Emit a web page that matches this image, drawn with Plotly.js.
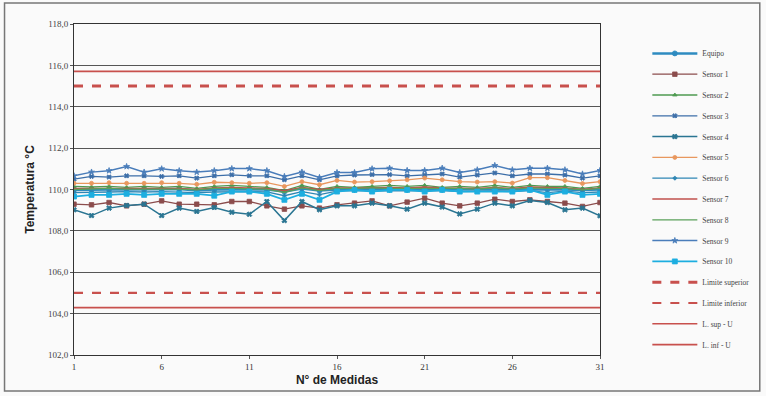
<!DOCTYPE html>
<html>
<head>
<meta charset="utf-8">
<script src="https://cdn.plot.ly/plotly-3.0.1.min.js"></script>
<style>html,body{margin:0;padding:0;background:#fafafa;}#chart{width:766px;height:396px;}</style>
</head>
<body>
<div id="chart"></div>
<script>
const medidas = Array.from({length: 31}, (_, i) => i + 1);
const xTickVals = [1, 6, 11, 16, 21, 26, 31];
const yTickVals = [102, 104, 106, 108, 110, 112, 114, 116, 118];

const equipo   = [109.98,110.0,110.0,110.0,110.0,110.0,110.02,109.95,110.0,110.0,110.0,110.0,109.9,110.05,109.95,110.0,110.0,110.02,110.0,110.0,110.0,110.02,110.0,110.0,110.0,110.0,110.02,110.0,110.0,109.98,110.0];
const sensor1  = [109.29,109.26,109.37,109.21,109.29,109.45,109.29,109.29,109.26,109.42,109.42,109.21,109.05,109.21,109.1,109.26,109.34,109.45,109.21,109.39,109.58,109.34,109.21,109.34,109.53,109.42,109.5,109.42,109.34,109.18,109.37];
const sensor2  = [110.15,110.12,110.15,110.1,110.15,110.1,110.15,110.05,110.15,110.2,110.15,110.1,109.95,110.2,110.0,110.15,110.1,110.15,110.2,110.15,110.2,110.1,110.15,110.1,110.2,110.1,110.2,110.15,110.15,110.05,110.15];
const sensor3  = [110.5,110.63,110.6,110.66,110.66,110.63,110.66,110.55,110.66,110.71,110.66,110.66,110.47,110.66,110.47,110.66,110.7,110.72,110.72,110.66,110.7,110.75,110.6,110.7,110.8,110.66,110.75,110.75,110.7,110.55,110.66];
const sensor4  = [109.02,108.74,109.1,109.23,109.29,108.74,109.1,108.94,109.13,108.9,108.8,109.42,108.5,109.42,109.02,109.21,109.21,109.34,109.21,109.05,109.34,109.15,108.82,109.05,109.34,109.21,109.47,109.37,109.02,109.1,108.73];
const sensor5  = [110.3,110.3,110.33,110.3,110.3,110.33,110.3,110.25,110.35,110.33,110.3,110.33,110.15,110.38,110.23,110.44,110.36,110.38,110.42,110.47,110.55,110.47,110.38,110.36,110.38,110.31,110.57,110.57,110.44,110.29,110.38];
const sensor6  = [109.85,109.88,109.88,109.9,109.88,109.9,109.88,109.85,109.88,109.9,109.9,109.88,109.7,109.9,109.75,109.92,109.95,109.92,109.95,109.95,109.92,109.95,109.9,109.92,109.92,109.9,109.95,109.85,109.92,109.85,109.88];
const sensor7  = [110.05,110.05,110.08,110.05,110.05,110.08,110.05,110.0,110.08,110.1,110.08,110.05,109.95,110.1,110.0,110.08,110.08,110.1,110.1,110.08,110.12,110.08,110.08,110.05,110.1,110.05,110.12,110.1,110.08,110.0,110.08];
const sensor8  = [110.0,110.02,110.05,110.02,110.02,110.05,110.02,109.98,110.05,110.05,110.05,110.02,109.85,110.08,109.95,110.05,110.05,110.08,110.05,110.05,110.08,110.05,110.05,110.02,110.08,110.02,110.08,110.05,110.05,109.98,110.05];
const sensor9  = [110.66,110.84,110.91,111.11,110.84,111.0,110.91,110.84,110.91,111.01,111.01,110.91,110.63,110.84,110.58,110.82,110.82,111.0,111.03,110.92,110.92,111.03,110.82,110.95,111.16,110.95,111.03,111.03,110.95,110.75,110.92];
const sensor10 = [109.66,109.74,109.74,109.79,109.74,109.79,109.79,109.79,109.7,109.9,109.9,109.79,109.5,109.79,109.5,109.9,109.98,109.9,109.98,109.98,109.9,109.98,109.9,109.9,109.9,109.9,109.98,109.74,109.9,109.74,109.79];
const limSup = 115.0, limInf = 105.0, limSupU = 115.71, limInfU = 104.29;

const names = ['Equipo','Sensor 1','Sensor 2','Sensor 3','Sensor 4','Sensor 5','Sensor 6','Sensor 7','Sensor 8','Sensor 9','Sensor 10','Limite superior','Limite inferior','L. sup - U','L. inf - U'];

const styles = [
  {c:'#2E8BC0', w:2.5, m:'circle', s:5},
  {c:'#8B4C4C', w:1.3, m:'square', s:4.5},
  {c:'#4E9A50', w:1.3, m:'triangle-up', s:4},
  {c:'#3C6EA8', w:1.3, m:'x', s:4},
  {c:'#2A7592', w:1.5, m:'x', s:4.5},
  {c:'#E8975E', w:1.3, m:'circle', s:4},
  {c:'#2E86B4', w:1.3, m:'cross', s:3},
  {c:'#C0504D', w:1.3, m:null, s:0},
  {c:'#5AA05A', w:1.3, m:null, s:0},
  {c:'#4A7DBA', w:1.5, m:'star', s:4.5},
  {c:'#1DAEE0', w:1.8, m:'square', s:5},
];
const series = [equipo,sensor1,sensor2,sensor3,sensor4,sensor5,sensor6,sensor7,sensor8,sensor9,sensor10];

const traces = [];
series.forEach((ys, k) => {
  const st = styles[k];
  const tr = {
    x: medidas, y: ys, name: names[k], type: 'scatter',
    mode: st.m ? 'lines+markers' : 'lines',
    line: {color: st.c, width: st.w},
    legendgroup: 'g' + k
  };
  if (st.m) tr.marker = {symbol: st.m, size: st.s, color: st.c, line: {color: st.c, width: 0.8}};
  traces.push(tr);
});
const limVals = [limSup, limInf, limSupU, limInfU];
const limStyles = [
  {dash:'dash', w:3},
  {dash:'dash', w:2.2},
  {dash:'solid', w:1.6},
  {dash:'solid', w:1.6}
];
limVals.forEach((v, k) => {
  traces.push({
    x: medidas, y: medidas.map(() => v), name: names[11 + k], type: 'scatter', mode: 'lines',
    line: {color: '#C8504D', width: limStyles[k].w, dash: limStyles[k].dash},
    legendgroup: 'g' + (11 + k)
  });
});

const layout = {
  width: 766, height: 396,
  paper_bgcolor: '#fafafa', plot_bgcolor: '#fafafa',
  margin: {l: 74, r: 162, t: 24, b: 41},
  separators: ',.',
  showlegend: true,
  legend: {
    x: 1.09, y: 0.955, xanchor: 'left', yanchor: 'top',
    font: {family: 'Liberation Serif', size: 7.5, color: '#444'},
    traceorder: 'grouped', tracegroupgap: 1.8,
    itemwidth: 45, bgcolor: 'rgba(0,0,0,0)'
  },
  xaxis: {
    range: [1, 31], tickvals: xTickVals, ticktext: xTickVals.map(String),
    showgrid: false, zeroline: false,
    showline: true, linecolor: '#333', linewidth: 1, mirror: true,
    ticks: 'outside', ticklen: 3, tickcolor: '#555',
    tickfont: {family: 'Liberation Serif', size: 9, color: '#333'},
    title: {text: 'N° de Medidas', font: {family: 'Liberation Sans', size: 12, color: '#222', weight: 'bold'}, standoff: 4}
  },
  yaxis: {
    range: [102, 118], tickvals: yTickVals, tickformat: '.1f',
    showgrid: true, gridcolor: '#555', gridwidth: 1, zeroline: false,
    showline: true, linecolor: '#333', linewidth: 1, mirror: true,
    ticks: 'outside', ticklen: 3, tickcolor: '#555',
    tickfont: {family: 'Liberation Serif', size: 9, color: '#444'},
    title: {text: 'Temperatura °C', font: {family: 'Liberation Sans', size: 12, color: '#222', weight: 'bold'}, standoff: 10}
  },
  shapes: [{
    type: 'rect', xref: 'paper', yref: 'paper',
    x0: (4 - 74) / 530, x1: (765 - 74) / 530,
    y0: (355 - 391) / 331, y1: (355 - 3) / 331,
    line: {color: '#777', width: 1.5}
  }]
};

Plotly.newPlot('chart', traces, layout, {staticPlot: true});
</script>
</body>
</html>
